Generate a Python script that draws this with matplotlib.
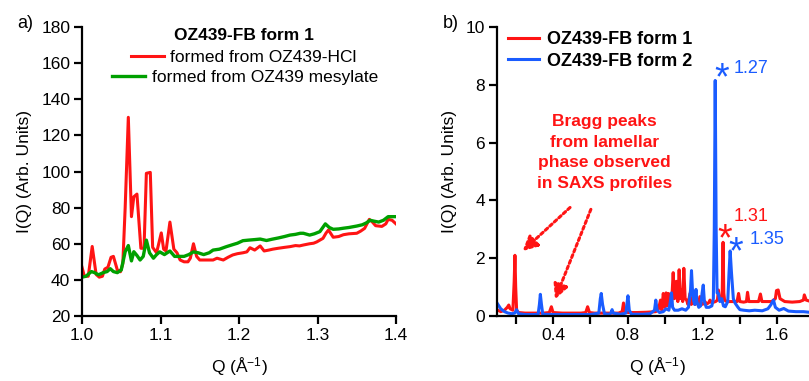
import matplotlib
matplotlib.use("Agg")
import matplotlib.pyplot as plt
from matplotlib.ticker import MultipleLocator

plt.rcParams["font.family"] = ["Liberation Sans", "DejaVu Sans"]
plt.rcParams["mathtext.fontset"] = "custom"
plt.rcParams["mathtext.rm"] = "Liberation Sans"
plt.rcParams["mathtext.it"] = "Liberation Sans:italic"

RED = "#ff1414"
GREEN = "#00a000"
BLUE = "#1a5cff"
FS = 12.5

# panel a) OZ439-FB form 1, two preparations
q_hcl = [1.000, 1.003, 1.008, 1.013, 1.018, 1.022, 1.026, 1.029, 1.033, 1.037,
         1.040, 1.045, 1.049, 1.052, 1.055, 1.059, 1.063, 1.066, 1.070, 1.075,
         1.079, 1.082, 1.087, 1.090, 1.095, 1.101, 1.104, 1.107, 1.112, 1.117,
         1.121, 1.125, 1.130, 1.135, 1.138, 1.142, 1.146, 1.150, 1.160, 1.167,
         1.172, 1.176, 1.180, 1.186, 1.192, 1.198, 1.205, 1.210, 1.214, 1.220,
         1.227, 1.232, 1.238, 1.243, 1.250, 1.258, 1.265, 1.272, 1.277, 1.282,
         1.290, 1.295, 1.299, 1.307, 1.311, 1.314, 1.320, 1.327, 1.333, 1.340,
         1.350, 1.355, 1.360, 1.363, 1.366, 1.370, 1.374, 1.382, 1.387, 1.390,
         1.395, 1.400]
i_hcl = [47, 42, 42, 58.5, 43, 41.5, 42, 46, 47, 52.5,
         53, 45.5, 44.5, 49, 80, 130, 75, 86, 87.5, 57.5,
         57.5, 99, 99.5, 58, 55, 66, 57, 56, 72, 57,
         55, 51, 50, 50, 52, 60, 53, 51, 51, 51,
         52, 51.5, 51, 52.5, 53.8, 54.5, 55, 55.5, 57.8, 56.5,
         58.8, 56, 56.5, 57, 57.5, 58, 58.4, 59, 58.8, 59.3,
         60, 60.3, 61, 63, 66, 67.6, 63.6, 64, 65, 65.5,
         65.8, 67, 68.5, 71, 73.5, 72, 70, 69.6, 71, 73.5,
         73, 71]

q_mes = [1.000, 1.005, 1.012, 1.016, 1.021, 1.027, 1.032, 1.036, 1.040, 1.045,
         1.050, 1.055, 1.059, 1.063, 1.066, 1.070, 1.074, 1.078, 1.082, 1.086,
         1.091, 1.095, 1.099, 1.105, 1.112, 1.118, 1.124, 1.130, 1.136, 1.142,
         1.148, 1.155, 1.162, 1.167, 1.175, 1.184, 1.192, 1.198, 1.205, 1.212,
         1.220, 1.227, 1.235, 1.242, 1.250, 1.258, 1.265, 1.272, 1.278, 1.282,
         1.290, 1.296, 1.303, 1.310, 1.315, 1.320, 1.327, 1.333, 1.340, 1.350,
         1.357, 1.362, 1.367, 1.372, 1.378, 1.384, 1.390, 1.395, 1.400]
i_mes = [41.5, 42, 44.6, 44, 42.8, 44, 44.6, 46.2, 44.6, 44,
         45.5, 55.6, 59, 50.5, 55.6, 53.5, 51, 53, 62, 55,
         52, 54, 55.5, 54, 56, 53, 53, 53, 54, 55.5,
         55, 54, 55, 56.5, 57, 58.4, 59.5, 60.3, 61.7, 62,
         62.3, 62.6, 61.8, 62.5, 63.2, 64, 64.8, 65.2, 65.8, 65.8,
         64.8, 65.5, 66.7, 71, 69, 68, 68.2, 68.6, 69, 69.8,
         70.5, 71.5, 73, 72.5, 72, 73, 75, 75, 75]

# panel b) form 1 vs form 2
q_f1 = [0.100, 0.120, 0.140, 0.155, 0.163, 0.170, 0.185, 0.192, 0.196, 0.200,
        0.205, 0.215, 0.250, 0.300, 0.350, 0.380, 0.391, 0.400, 0.450, 0.500,
        0.550, 0.575, 0.585, 0.595, 0.620, 0.650, 0.700, 0.750, 0.770, 0.777,
        0.785, 0.800, 0.850, 0.900, 0.950, 0.965, 0.975, 0.982, 0.990, 0.998,
        1.005, 1.012, 1.018, 1.025, 1.035, 1.043, 1.050, 1.060, 1.068, 1.075,
        1.082, 1.088, 1.094, 1.100, 1.107, 1.115, 1.122, 1.133, 1.140, 1.150,
        1.160, 1.170, 1.178, 1.186, 1.195, 1.205, 1.213, 1.222, 1.232, 1.240,
        1.250, 1.260, 1.270, 1.280, 1.285, 1.292, 1.300, 1.305, 1.310, 1.314,
        1.318, 1.330, 1.350, 1.370, 1.385, 1.393, 1.400, 1.420, 1.435, 1.441,
        1.448, 1.470, 1.500, 1.510, 1.518, 1.540, 1.570, 1.590, 1.596, 1.605,
        1.615, 1.640, 1.680, 1.720, 1.740, 1.745, 1.755, 1.770]
i_f1 = [0.22, 0.15, 0.20, 0.30, 0.38, 0.25, 0.20, 1.20, 2.10, 1.00,
        0.20, 0.12, 0.10, 0.10, 0.10, 0.12, 0.32, 0.12, 0.10, 0.10,
        0.10, 0.12, 0.32, 0.12, 0.10, 0.10, 0.10, 0.10, 0.15, 0.45,
        0.15, 0.12, 0.12, 0.13, 0.15, 0.25, 0.55, 0.20, 0.78, 0.30,
        0.80, 0.35, 0.78, 0.40, 0.50, 1.50, 0.60, 1.20, 0.50, 1.60,
        0.60, 0.90, 0.50, 1.65, 0.60, 0.55, 0.40, 0.78, 0.40, 0.55,
        0.40, 0.45, 0.40, 0.67, 0.40, 0.42, 0.50, 0.42, 0.45, 0.55,
        0.45, 0.48, 0.50, 0.55, 0.90, 0.55, 0.55, 0.60, 2.55, 0.80,
        0.55, 0.50, 0.50, 0.50, 0.50, 0.78, 0.50, 0.48, 0.50, 0.82,
        0.50, 0.50, 0.50, 0.76, 0.50, 0.50, 0.50, 0.60, 0.88, 0.90,
        0.60, 0.50, 0.48, 0.50, 0.55, 0.73, 0.55, 0.52]

q_f2 = [0.100, 0.110, 0.120, 0.140, 0.160, 0.180, 0.195, 0.205, 0.215, 0.250,
        0.300, 0.320, 0.327, 0.332, 0.338, 0.345, 0.400, 0.450, 0.500, 0.550,
        0.600, 0.645, 0.653, 0.658, 0.665, 0.675, 0.700, 0.710, 0.716, 0.722,
        0.760, 0.790, 0.797, 0.801, 0.808, 0.820, 0.880, 0.920, 0.943, 0.950,
        0.957, 0.970, 0.990, 1.005, 1.020, 1.028, 1.034, 1.040, 1.050, 1.070,
        1.090, 1.110, 1.125, 1.136, 1.141, 1.147, 1.152, 1.158, 1.165, 1.170,
        1.180, 1.190, 1.198, 1.204, 1.210, 1.220, 1.235, 1.250, 1.258, 1.263,
        1.268, 1.273, 1.278, 1.285, 1.293, 1.303, 1.312, 1.322, 1.335, 1.342,
        1.348, 1.355, 1.365, 1.375, 1.390, 1.400, 1.420, 1.450, 1.480, 1.520,
        1.550, 1.565, 1.580, 1.590, 1.610, 1.635, 1.660, 1.700, 1.740, 1.770]
i_f2 = [0.45, 0.35, 0.25, 0.15, 0.10, 0.08, 0.10, 0.22, 0.08, 0.05,
        0.05, 0.06, 0.40, 0.75, 0.40, 0.06, 0.05, 0.05, 0.05, 0.05,
        0.05, 0.10, 0.60, 0.78, 0.40, 0.08, 0.06, 0.10, 0.22, 0.10,
        0.06, 0.10, 0.50, 0.70, 0.20, 0.06, 0.06, 0.08, 0.20, 0.55,
        0.20, 0.12, 0.15, 0.25, 0.20, 0.50, 0.80, 0.30, 0.20, 0.20,
        0.25, 0.20, 0.30, 0.90, 1.57, 0.80, 0.55, 0.40, 0.92, 0.50,
        0.30, 0.35, 0.80, 1.07, 0.50, 0.30, 0.30, 0.35, 0.60, 3.00,
        8.15, 3.00, 0.80, 0.78, 0.50, 0.60, 0.35, 0.32, 0.50, 1.50,
        2.25, 1.50, 0.60, 0.44, 0.30, 0.22, 0.20, 0.18, 0.20, 0.18,
        0.25, 0.38, 0.55, 0.30, 0.20, 0.26, 0.17, 0.15, 0.15, 0.13]

W, H = 809, 381
fig = plt.figure(figsize=(W / 100, H / 100), dpi=100)
ax1 = fig.add_axes([82 / W, 1 - 316 / H, (396 - 82) / W, (316 - 27) / H])
ax2 = fig.add_axes([497 / W, 1 - 316 / H, (809 - 497) / W, (316 - 27) / H])


def style_axes(ax):
    for s in ["top", "right"]:
        ax.spines[s].set_visible(False)
    for s in ["left", "bottom"]:
        ax.spines[s].set_linewidth(1.6)
    ax.tick_params(which="both", direction="out", length=5.5, width=1.6,
                   labelsize=FS, pad=3)


# ---- panel a
l_hcl, = ax1.plot(q_hcl, i_hcl, color=RED, lw=2.2, label="formed from OZ439-HCl")
l_mes, = ax1.plot(q_mes, i_mes, color=GREEN, lw=2.4,
                  label="formed from OZ439 mesylate")
ax1.set_xlim(1.0, 1.4)
ax1.set_ylim(20, 180)
ax1.xaxis.set_major_locator(MultipleLocator(0.1))
ax1.yaxis.set_major_locator(MultipleLocator(20))
style_axes(ax1)
ax1.set_ylabel("I(Q) (Arb. Units)", fontsize=FS)
ax1.set_xlabel("Q (Å$^{-1}$)", fontsize=FS)
ax1.yaxis.set_label_coords(-0.16, 0.5)
ax1.xaxis.set_label_coords(0.5, -0.135)

leg_a = ax1.legend(handles=[l_hcl], title="OZ439-FB form 1", loc="upper center",
                   bbox_to_anchor=(0.515, 1.028), frameon=False, fontsize=FS,
                   handlelength=1.9, handletextpad=0.4, borderpad=0,
                   alignment="center",
                   title_fontproperties={"weight": "bold", "size": FS})
leg_a._legend_box.sep = 5
ax1.add_artist(leg_a)
ax1.legend(handles=[l_mes], loc="upper center", bbox_to_anchor=(0.52, 0.882),
           frameon=False, fontsize=FS, handlelength=1.9, handletextpad=0.4,
           borderpad=0)

# ---- panel b
ax2.plot(q_f1, i_f1, color=RED, lw=2.2, label="OZ439-FB form 1")
ax2.plot(q_f2, i_f2, color=BLUE, lw=2.2, label="OZ439-FB form 2")
ax2.set_xlim(0.1, 1.77)
ax2.set_ylim(0, 10)
ax2.set_xticks([0.4, 0.8, 1.2, 1.6])
ax2.set_xticks([0.2, 0.6, 1.0, 1.4], minor=True)
ax2.yaxis.set_major_locator(MultipleLocator(2))
style_axes(ax2)
ax2.set_ylabel("I(Q) (Arb. Units)", fontsize=FS)
ax2.set_xlabel("Q (Å$^{-1}$)", fontsize=FS)
ax2.yaxis.set_label_coords(-0.129, 0.5)
ax2.xaxis.set_label_coords(0.513, -0.135)
ax2.legend(loc="upper left", bbox_to_anchor=(0.005, 1.017), frameon=False,
           prop={"weight": "bold", "size": 13}, handlelength=1.75,
           handletextpad=0.45, labelspacing=0.25, borderpad=0)

ax2.text(0.675, 5.66, "Bragg peaks\nfrom lamellar\nphase observed\nin SAXS profiles",
         color=RED, fontsize=FS, fontweight="bold", ha="center", va="center",
         linespacing=1.45)
arrow = dict(arrowstyle="-|>", color=RED, lw=2.2, linestyle=(0, (1, 1)),
             mutation_scale=22)
ax2.annotate("", xy=(0.226, 2.18), xytext=(0.502, 3.82), arrowprops=arrow)
ax2.annotate("", xy=(0.405, 0.49), xytext=(0.608, 3.78), arrowprops=arrow)

# peak markers
for q, i, c in [(1.303, 8.57, BLUE), (1.321, 2.98, RED), (1.380, 2.54, BLUE)]:
    ax2.annotate("*", xy=(q, i), xytext=(0, -15), textcoords="offset points",
                 ha="center", va="baseline", fontsize=27, color=c)
for q, i, s, c in [(1.369, 8.57, "1.27", BLUE), (1.366, 3.44, "1.31", RED),
                   (1.452, 2.65, "1.35", BLUE)]:
    ax2.text(q, i, s, ha="left", va="center", fontsize=13, color=c)

fig.text(17 / W, 1 - 23 / H, "a)", ha="left", va="center", fontsize=13)
fig.text(443 / W, 1 - 23 / H, "b)", ha="left", va="center", fontsize=13)

fig.savefig("out.png", dpi=100)
